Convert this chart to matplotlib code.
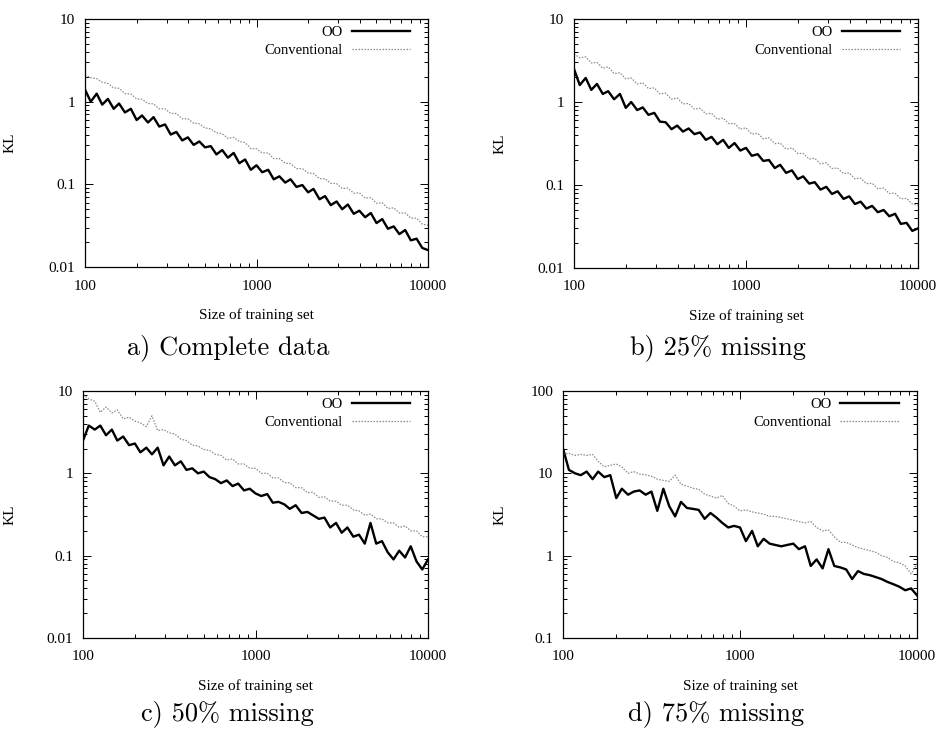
import matplotlib
matplotlib.use("Agg")
import matplotlib.pyplot as plt
from matplotlib.ticker import FixedLocator, FixedFormatter, LogLocator, NullFormatter

# training set sizes (shared by every panel)
sizes = [100, 108, 117, 126, 136, 147, 158, 171, 185, 200, 215, 233, 251, 271, 293,
         316, 341, 369, 398, 430, 464, 501, 541, 584, 631, 681, 736, 794, 858, 926,
         1000, 1080, 1170, 1260, 1360, 1470, 1580, 1710, 1850, 2000, 2150, 2330, 2510,
         2710, 2930, 3160, 3410, 3690, 3980, 4300, 4640, 5010, 5410, 5840, 6310, 6810,
         7360, 7940, 8580, 9260, 10000]

# a) complete data
oo_a = [1.40, 1.00, 1.25, 0.92, 1.08, 0.82, 0.95, 0.74, 0.82, 0.60, 0.68, 0.56, 0.65,
        0.50, 0.53, 0.40, 0.43, 0.34, 0.37, 0.30, 0.33, 0.28, 0.29, 0.23, 0.26, 0.21,
        0.24, 0.18, 0.20, 0.15, 0.17, 0.14, 0.15, 0.115, 0.125, 0.105, 0.115, 0.093,
        0.098, 0.080, 0.088, 0.066, 0.072, 0.056, 0.062, 0.050, 0.057, 0.044, 0.048,
        0.040, 0.045, 0.034, 0.038, 0.029, 0.031, 0.025, 0.028, 0.021, 0.022, 0.017, 0.016]
conv_a = [2.10, 1.95, 1.90, 1.72, 1.66, 1.47, 1.45, 1.25, 1.24, 1.08, 1.07, 0.95, 0.94,
          0.82, 0.82, 0.72, 0.72, 0.62, 0.62, 0.55, 0.54, 0.48, 0.47, 0.42, 0.41, 0.36,
          0.37, 0.33, 0.32, 0.27, 0.27, 0.24, 0.24, 0.205, 0.205, 0.18, 0.178, 0.155,
          0.155, 0.137, 0.135, 0.117, 0.117, 0.103, 0.102, 0.089, 0.090, 0.078, 0.079,
          0.068, 0.069, 0.059, 0.060, 0.051, 0.052, 0.045, 0.045, 0.039, 0.039, 0.033, 0.032]

# b) 25% missing
oo_b = [2.5, 1.6, 1.95, 1.4, 1.65, 1.25, 1.35, 1.08, 1.25, 0.85, 1.0, 0.80, 0.86, 0.70,
        0.74, 0.58, 0.57, 0.47, 0.52, 0.44, 0.48, 0.41, 0.43, 0.35, 0.38, 0.31, 0.35,
        0.28, 0.32, 0.26, 0.28, 0.225, 0.235, 0.195, 0.20, 0.16, 0.175, 0.14, 0.15,
        0.118, 0.127, 0.104, 0.108, 0.088, 0.095, 0.078, 0.084, 0.068, 0.073, 0.059,
        0.063, 0.052, 0.056, 0.047, 0.050, 0.042, 0.045, 0.034, 0.035, 0.028, 0.030]
conv_b = [3.8, 3.4, 3.5, 2.95, 3.0, 2.55, 2.65, 2.2, 2.25, 1.9, 1.95, 1.65, 1.70, 1.45,
          1.48, 1.25, 1.28, 1.08, 1.12, 0.95, 0.96, 0.82, 0.84, 0.72, 0.73, 0.62, 0.64,
          0.55, 0.55, 0.47, 0.49, 0.41, 0.42, 0.36, 0.37, 0.315, 0.32, 0.27, 0.28, 0.24,
          0.24, 0.205, 0.21, 0.18, 0.185, 0.158, 0.16, 0.137, 0.14, 0.119, 0.121, 0.104,
          0.105, 0.090, 0.092, 0.079, 0.080, 0.068, 0.069, 0.059, 0.057]

# c) 50% missing
oo_c = [2.5, 3.8, 3.4, 3.8, 2.9, 3.4, 2.5, 2.8, 2.2, 2.3, 1.8, 2.05, 1.7, 2.05, 1.25,
        1.6, 1.25, 1.4, 1.1, 1.15, 1.0, 1.05, 0.9, 0.85, 0.76, 0.82, 0.70, 0.75, 0.62,
        0.65, 0.57, 0.53, 0.56, 0.44, 0.45, 0.42, 0.37, 0.41, 0.33, 0.34, 0.31, 0.28,
        0.29, 0.22, 0.25, 0.19, 0.22, 0.17, 0.18, 0.14, 0.25, 0.14, 0.15, 0.11, 0.09,
        0.115, 0.095, 0.13, 0.085, 0.068, 0.09]
conv_c = [9.0, 8.0, 7.5, 5.5, 6.4, 5.4, 5.9, 4.6, 4.8, 4.3, 4.1, 3.7, 5.0, 3.3, 3.4,
          3.1, 3.0, 2.6, 2.5, 2.2, 2.15, 1.95, 1.9, 1.7, 1.65, 1.45, 1.5, 1.3, 1.3, 1.15,
          1.15, 1.0, 1.0, 0.88, 0.88, 0.77, 0.77, 0.67, 0.67, 0.58, 0.59, 0.51, 0.52,
          0.46, 0.46, 0.41, 0.41, 0.36, 0.35, 0.31, 0.32, 0.28, 0.28, 0.25, 0.25, 0.22,
          0.23, 0.20, 0.20, 0.17, 0.17]

# d) 75% missing
oo_d = [20, 11, 10, 9.5, 10.5, 8.5, 10.5, 9, 9.5, 5.0, 6.5, 5.5, 6, 6.2, 5.5, 6.0, 3.5,
        6.5, 4.0, 3.0, 4.5, 3.8, 3.7, 3.6, 2.8, 3.3, 2.9, 2.5, 2.2, 2.3, 2.2, 1.5, 2.0,
        1.3, 1.6, 1.4, 1.35, 1.3, 1.35, 1.4, 1.2, 1.3, 0.75, 0.9, 0.7, 1.2, 0.75, 0.72,
        0.68, 0.52, 0.65, 0.60, 0.58, 0.55, 0.52, 0.48, 0.45, 0.42, 0.38, 0.40, 0.33]
conv_d = [17, 17.5, 16.5, 17, 16.5, 17, 14, 12, 12.5, 13, 12, 10, 10.5, 9.8, 9.6, 9.2,
          8.5, 8.2, 8.0, 9.5, 7.4, 7.0, 6.6, 6.4, 5.6, 5.3, 5.0, 5.4, 4.3, 4.0, 3.5, 3.6,
          3.4, 3.3, 3.2, 3.0, 3.0, 2.9, 2.8, 2.7, 2.6, 2.5, 2.6, 2.2, 2.0, 2.05, 1.7, 1.45,
          1.45, 1.35, 1.25, 1.2, 1.15, 1.1, 1.0, 0.95, 0.85, 0.82, 0.75, 0.6, 0.8]

captions = ["a) Complete data", "b) 25% missing", "c) 50% missing", "d) 75% missing"]
x_ticks = [100, 1000, 10000]
x_labels = ["100", "1000", "10000"]

serif = "Liberation Serif"
W, H = 940, 736

fig = plt.figure(figsize=(W / 100, H / 100), dpi=100)


def px_axes(left, top, right, bottom):
    return fig.add_axes([left / W, 1 - bottom / H, (right - left) / W, (bottom - top) / H])


def draw_panel(ax, oo, conv, ylim, yticks, ylabels):
    ax.plot(sizes, oo, color="black", lw=1.7, label="OO")
    ax.plot(sizes, conv, color="#8a8a8a", lw=0.9, ls=(0, (1.2, 1.2)), label="Conventional")
    ax.set_xscale("log")
    ax.set_yscale("log")
    ax.set_xlim(100, 10000)
    ax.set_ylim(*ylim)
    ax.xaxis.set_major_locator(FixedLocator(x_ticks))
    ax.xaxis.set_major_formatter(FixedFormatter(x_labels))
    ax.yaxis.set_major_locator(FixedLocator(yticks))
    ax.yaxis.set_major_formatter(FixedFormatter(ylabels))
    for axis in (ax.xaxis, ax.yaxis):
        axis.set_minor_locator(LogLocator(base=10, subs=range(2, 10)))
        axis.set_minor_formatter(NullFormatter())
    ax.tick_params(which="both", direction="in", top=True, right=True,
                   labelsize=11, width=0.7)
    ax.tick_params(which="major", length=6)
    ax.tick_params(which="minor", length=3)
    ax.tick_params(axis="x", pad=9)
    ax.tick_params(axis="y", pad=7)
    for lab in ax.get_xticklabels() + ax.get_yticklabels():
        lab.set_fontfamily(serif)
    for sp in ax.spines.values():
        sp.set_linewidth(0.9)
    ax.set_xlabel("Size of training set", fontfamily=serif, fontsize=11)
    ax.set_ylabel("KL", fontfamily=serif, fontsize=11)
    ax.legend(loc="upper right", bbox_to_anchor=(0.965, 0.995), frameon=False,
              markerfirst=False, handlelength=4.0, handletextpad=0.6,
              labelspacing=0.3, borderaxespad=0.0,
              prop={"family": serif, "size": 10.5})
    return ax


ax_a = px_axes(85, 19, 428, 267)
ax_b = px_axes(574, 19, 918, 268)
ax_c = px_axes(83, 391, 428, 638)
ax_d = px_axes(563, 391, 917, 638)

ticks_low = [0.01, 0.1, 1, 10]
labels_low = ["0.01", "0.1", "1", "10"]
draw_panel(ax_a, oo_a, conv_a, (0.01, 10), ticks_low, labels_low)
draw_panel(ax_b, oo_b, conv_b, (0.01, 10), ticks_low, labels_low)
draw_panel(ax_c, oo_c, conv_c, (0.01, 10), ticks_low, labels_low)
draw_panel(ax_d, oo_d, conv_d, (0.1, 100), [0.1, 1, 10, 100], ["0.1", "1", "10", "100"])

for ax, lx in ((ax_a, 17), (ax_b, 507), (ax_c, 17), (ax_d, 507)):
    pos = ax.get_position()
    left_px = pos.x0 * W
    ax.yaxis.set_label_coords(-(left_px - lx) / (pos.width * W), 0.5)
    ax.xaxis.set_label_coords(0.5, -0.165)

for cap, cx, cy in zip(captions, [228, 718, 227, 716], [348, 348, 714, 714]):
    fig.text(cx / W, 1 - cy / H, cap, ha="center", va="center",
             fontfamily="cmr10", fontsize=19)

fig.savefig("out.png", dpi=100)
